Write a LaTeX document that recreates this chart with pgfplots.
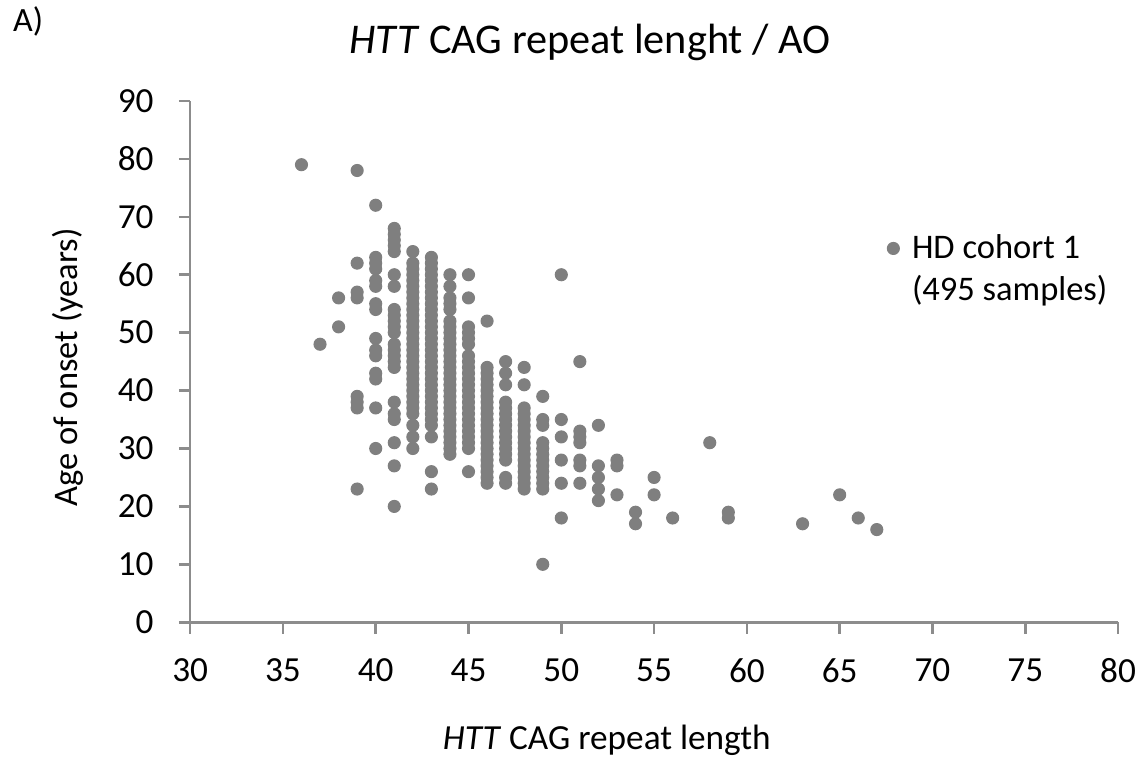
\documentclass[border=0pt]{standalone}
\usepackage{pgfplots}
\pgfplotsset{compat=1.18}
\usepackage{fontspec}
\setmainfont{Carlito}
\definecolor{dotgray}{HTML}{7F7F7F}
\definecolor{axgray}{HTML}{8C8C8C}
\pgfplotstableread{
x y
36 79
37 48
38 56
38 51
39 78
39 62
39 57
39 56
39 39
39 38
39 37
39 23
40 72
40 63
40 62
40 61
40 59
40 58
40 55
40 54
40 49
40 47
40 46
40 43
40 42
40 37
40 30
41 68
41 67
41 66
41 65
41 64
41 60
41 58
41 54
41 53
41 52
41 51
41 50
41 48
41 47
41 46
41 45
41 44
41 38
41 36
41 35
41 31
41 27
41 20
42 64
42 62
42 61
42 60
42 59
42 58
42 57
42 56
42 55
42 54
42 53
42 52
42 51
42 50
42 49
42 48
42 47
42 46
42 45
42 44
42 43
42 42
42 41
42 40
42 39
42 38
42 37
42 36
42 34
42 32
42 30
43 63
43 62
43 61
43 60
43 59
43 58
43 57
43 56
43 55
43 54
43 53
43 52
43 51
43 50
43 49
43 48
43 47
43 46
43 45
43 44
43 43
43 42
43 41
43 40
43 39
43 38
43 37
43 36
43 35
43 34
43 32
43 26
43 23
44 60
44 58
44 56
44 55
44 54
44 52
44 51
44 50
44 49
44 48
44 47
44 46
44 45
44 44
44 43
44 42
44 41
44 40
44 39
44 38
44 37
44 36
44 35
44 34
44 33
44 32
44 31
44 30
44 29
45 60
45 56
45 51
45 50
45 49
45 48
45 46
45 45
45 44
45 43
45 42
45 41
45 40
45 39
45 38
45 37
45 36
45 35
45 34
45 33
45 32
45 31
45 30
45 26
46 52
46 44
46 43
46 42
46 41
46 40
46 39
46 38
46 37
46 36
46 35
46 34
46 33
46 32
46 31
46 30
46 29
46 28
46 27
46 26
46 25
46 24
47 45
47 43
47 41
47 38
47 37
47 36
47 35
47 34
47 33
47 32
47 31
47 30
47 29
47 28
47 25
47 24
48 44
48 41
48 37
48 36
48 35
48 34
48 33
48 32
48 31
48 30
48 29
48 28
48 27
48 26
48 25
48 24
48 23
49 39
49 35
49 34
49 31
49 30
49 29
49 28
49 27
49 26
49 25
49 24
49 23
49 10
50 60
50 35
50 32
50 28
50 24
50 18
51 45
51 33
51 32
51 31
51 28
51 27
51 24
52 34
52 27
52 25
52 23
52 21
53 28
53 27
53 22
54 19
54 17
55 25
55 22
56 18
58 31
59 19
59 18
63 17
65 22
66 18
67 16
}\hdtable
\begin{document}
\begin{tikzpicture}
\path[use as bounding box] (-75.5pt,-55.6pt) rectangle (378pt,247.1pt);
\begin{axis}[
  at={(0pt,0pt)}, anchor=south west,
  scale only axis, width=368.5pt, height=207pt,
  xmin=30, xmax=80, ymin=0, ymax=90,
  xtick={30,35,...,80}, ytick={0,10,...,90},
  axis x line*=bottom, axis y line*=left,
  axis line style={axgray, line width=1pt, -},
  every tick/.style={axgray, line width=1pt},
  tick align=outside, major tick length=4.5pt,
  /pgf/number format/assume math mode=true,
  tick label style={font=\fontsize{14}{16}\selectfont, black},
  xticklabel style={yshift=-6.5pt},
  yticklabel style={xshift=-6.5pt},
  clip=false,
  xlabel={\textit{HTT} CAG repeat length},
  xlabel style={at={(axis description cs:0.449,-0.2265)}, anchor=center, font=\fontsize{14}{16}\selectfont},
  ylabel={Age of onset (years)},
  ylabel style={at={(axis description cs:-0.1315,0.489)}, anchor=center, font=\fontsize{13.7}{16}\selectfont},
  title={\textit{HTT} CAG repeat lenght / AO},
  title style={at={(axis description cs:0.431,1.084)}, anchor=center, font=\fontsize{16.8}{19}\selectfont},
  legend style={at={(axis description cs:0.726,0.764)}, anchor=north west, draw=none, fill=none,
    font=\fontsize{13.7}{16}\selectfont, row sep=1pt},
  legend cell align=left,
]
\addplot[only marks, mark=*, mark size=2.4pt, color=dotgray, mark options={fill=dotgray, draw=dotgray}] table[x=x, y=y] {\hdtable};
\addlegendentry{\hspace*{3pt}HD cohort 1}
\addlegendimage{empty legend}
\addlegendentry{\hspace*{3pt}(495 samples)}
\node[font=\fontsize{13.5}{16}\selectfont] at (axis description cs:-0.1746,1.152) {A)};
\end{axis}
\end{tikzpicture}
\end{document}
